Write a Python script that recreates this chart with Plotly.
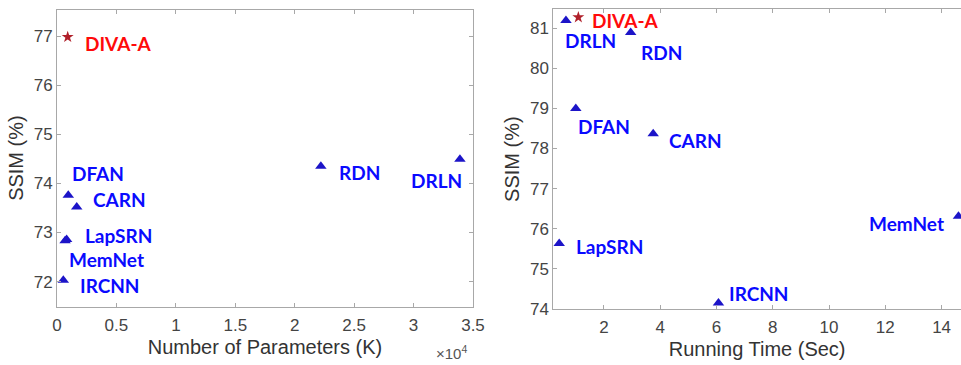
import plotly.graph_objects as go

# ---- Data ----
methods = ["DIVA-A", "DFAN", "CARN", "LapSRN", "MemNet", "IRCNN", "RDN", "DRLN"]

# Left panel: number of parameters (K) vs SSIM (%)
params_k = [900, 950, 1660, 810, 680, 530, 22200, 33900]
ssim_params = [76.98, 73.76, 73.52, 72.86, 72.83, 72.03, 74.35, 74.49]

# Right panel: running time (sec) vs SSIM (%)
run_methods = ["DIVA-A", "DRLN", "RDN", "DFAN", "CARN", "LapSRN", "IRCNN", "MemNet"]
run_time = [1.09, 0.65, 2.95, 1.0, 3.75, 0.41, 6.07, 14.6]
ssim_time = [81.27, 81.19, 80.89, 79.0, 78.37, 75.63, 74.15, 76.31]

left_xtick_vals = [0, 5000, 10000, 15000, 20000, 25000, 30000, 35000]
left_xtick_text = ["0", "0.5", "1", "1.5", "2", "2.5", "3", "3.5"]
left_ytick_vals = [72, 73, 74, 75, 76, 77]
right_xtick_vals = [2, 4, 6, 8, 10, 12, 14]
right_ytick_vals = [74, 75, 76, 77, 78, 79, 80, 81]

# ---- Styles ----
TRI_COLOR = "#1c14c8"
STAR_COLOR = "#b0202a"
LABEL_BLUE = "#0a0aff"
LABEL_RED = "#ff0a0a"
FRAME = "#a8a8a8"
TICKFONT = dict(family="Liberation Sans, Arial, sans-serif", size=17, color="#444444")
TITLEFONT = dict(family="Liberation Sans, Arial, sans-serif", size=20, color="#333333")
LABELFONT = "Lato, sans-serif"

# label offsets (xanchor, xshift, yshift) — styling only
left_offsets = {
    "DIVA-A": ("left", 15, -6),
    "DFAN": ("left", 2, 22),
    "CARN": ("left", 14, 7),
    "LapSRN": ("left", 16, 4),
    "MemNet": ("left", 2, -19),
    "IRCNN": ("left", 15, -5),
    "RDN": ("left", 16, -6),
    "DRLN": ("right", 4, -21),
}
right_offsets = {
    "DIVA-A": ("left", 12, -3),
    "DRLN": ("left", -3, -20),
    "RDN": ("left", 8, -20),
    "DFAN": ("left", 0, -18),
    "CARN": ("left", 14, -7),
    "LapSRN": ("left", 15, -3),
    "IRCNN": ("left", 9, 9),
    "MemNet": ("right", -12, -7),
}

fig = go.Figure()


def add_panel(names, xs, ys, xref, yref, offsets):
    tri_x = [x for n, x in zip(names, xs) if n != "DIVA-A"]
    tri_y = [y for n, y in zip(names, ys) if n != "DIVA-A"]
    star_x = [x for n, x in zip(names, xs) if n == "DIVA-A"]
    star_y = [y for n, y in zip(names, ys) if n == "DIVA-A"]
    fig.add_trace(go.Scatter(
        x=tri_x, y=tri_y, mode="markers", xaxis=xref, yaxis=yref,
        marker=dict(symbol="triangle-up", size=10, color=TRI_COLOR),
        cliponaxis=False, showlegend=False, hoverinfo="skip"))
    fig.add_trace(go.Scatter(
        x=star_x, y=star_y, mode="markers", xaxis=xref, yaxis=yref,
        marker=dict(symbol="star", size=9, color=STAR_COLOR),
        cliponaxis=False, showlegend=False, hoverinfo="skip"))
    for n, x, y in zip(names, xs, ys):
        anchor, dx, dy = offsets[n]
        fig.add_annotation(
            x=x, y=y, xref=xref, yref=yref, text=n, showarrow=False,
            xanchor=anchor, yanchor="middle", xshift=dx, yshift=dy,
            font=dict(family=LABELFONT, size=19, weight="bold",
                      color=LABEL_RED if n == "DIVA-A" else LABEL_BLUE))


add_panel(methods, params_k, ssim_params, "x", "y", left_offsets)
add_panel(run_methods, run_time, ssim_time, "x2", "y2", right_offsets)

axis_common = dict(
    showline=True, linecolor=FRAME, linewidth=1, ticks="inside", ticklen=4,
    tickcolor=FRAME, showgrid=False, zeroline=False, tickfont=TICKFONT,
    automargin=False,
)

fig.update_layout(
    width=961, height=365,
    margin=dict(l=0, r=0, t=9, b=56, autoexpand=False),
    paper_bgcolor="white", plot_bgcolor="white",
    xaxis=dict(domain=[57 / 961, 473 / 961], range=[0, 35000],
               tickvals=left_xtick_vals, ticktext=left_xtick_text,
               mirror="ticks", anchor="y", ticklabelstandoff=3,
               title=dict(text="Number of Parameters (K)", font=TITLEFONT, standoff=5),
               **axis_common),
    yaxis=dict(domain=[2.3 / 300, 299.5 / 300], range=[71.49, 77.54],
               tickvals=left_ytick_vals, mirror="ticks", anchor="x",
               title=dict(text="SSIM (%)", font=TITLEFONT, standoff=4),
               **axis_common),
    xaxis2=dict(domain=[553.3 / 961, 1.0], range=[0.2, 14.69],
                tickvals=right_xtick_vals, mirror="ticks", anchor="y2",
                ticklabelstandoff=3,
                title=dict(text="Running Time (Sec)", font=TITLEFONT, standoff=5),
                **axis_common),
    yaxis2=dict(domain=[0, 299.7 / 300], range=[74, 81.47],
                tickvals=right_ytick_vals, mirror=False, anchor="x2",
                title=dict(text="SSIM (%)", font=TITLEFONT, standoff=4),
                **axis_common),
)

# MATLAB-style exponent label for the left x axis
fig.add_annotation(
    x=434 / 961, y=(309 - 352) / 300, xref="paper", yref="paper",
    text="×10<sup>4</sup>", showarrow=False, xanchor="left", yanchor="middle",
    font=dict(family="Liberation Sans, Arial, sans-serif", size=15, color="#555555"))

fig.write_html(
    "out.html",
    config={"displayModeBar": False},
    post_script="document.body.style.margin='0';document.body.style.overflow='hidden';",
)
